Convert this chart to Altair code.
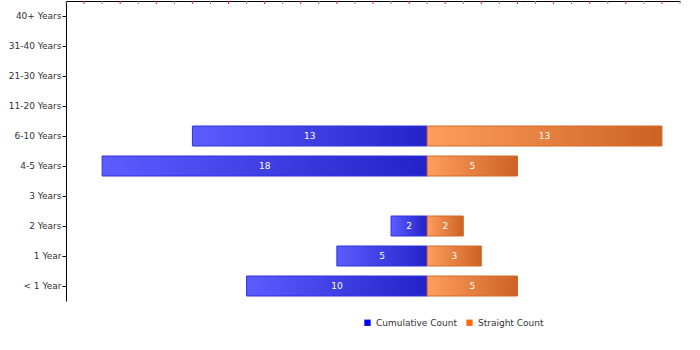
import altair as alt
import pandas as pd

categories = ["40+ Years", "31-40 Years", "21-30 Years", "11-20 Years", "6-10 Years",
              "4-5 Years", "3 Years", "2 Years", "1 Year", "< 1 Year"]
cumulative = [0, 0, 0, 0, 13, 18, 0, 2, 5, 10]
straight = [0, 0, 0, 0, 13, 5, 0, 2, 3, 5]
series_names = ["Cumulative Count", "Straight Count"]
tick_values = list(range(-20, 15))

rows = []
for c, v in zip(categories, cumulative):
    rows.append({"cat": c, "series": series_names[0], "count": v, "sign": -1})
for c, v in zip(categories, straight):
    rows.append({"cat": c, "series": series_names[1], "count": v, "sign": 1})
df = pd.DataFrame(rows)
ticks_df = pd.DataFrame({"t": tick_values})

FONT = "DejaVu Sans"
xscale = alt.Scale(domain=[-20, 14], nice=False, zero=False)
yscale = alt.Scale(domain=categories, paddingInner=1/3, paddingOuter=1/6)

base = alt.Chart(df).transform_calculate(
    x=f"datum.sign * datum.count", mid="datum.sign * datum.count / 2"
)

blue_grad = alt.LinearGradient(
    gradient="linear", x1=0, x2=1, y1=0, y2=0,
    stops=[alt.GradientStop(offset=0, color="#5c5cff"),
           alt.GradientStop(offset=1, color="#2222c8")])
orange_grad = alt.LinearGradient(
    gradient="linear", x1=0, x2=1, y1=0, y2=0,
    stops=[alt.GradientStop(offset=0, color="#ff9e5e"),
           alt.GradientStop(offset=1, color="#cc6224")])

ycode = alt.Y("cat:N", scale=yscale, sort=categories,
              axis=alt.Axis(title=None, orient="left", domainColor="#000000", tickColor="#000000",
                            tickSize=4, labelPadding=1, labelFont=FONT, labelFontSize=9,
                            labelColor="#333333", grid=False))

blue_bars = base.transform_filter(
    f"datum.series == '{series_names[0]}' && datum.count > 0"
).mark_bar(fill=blue_grad, stroke="#3030e0", strokeWidth=1).encode(
    x=alt.X("x:Q", scale=xscale,
            axis=alt.Axis(orient="top", title=None, labels=False, ticks=False,
                          grid=False, domainColor="#000000")),
    x2=alt.datum(0),
    y=ycode,
)
orange_bars = base.transform_filter(
    f"datum.series == '{series_names[1]}' && datum.count > 0"
).mark_bar(fill=orange_grad, stroke="#d06a2a", strokeWidth=1).encode(
    x=alt.X("x:Q", scale=xscale),
    x2=alt.datum(0),
    y=ycode,
)
labels = base.transform_filter("datum.count > 0").mark_text(
    color="white", font=FONT, fontSize=9, baseline="middle", align="center"
).encode(
    x=alt.X("mid:Q", scale=xscale),
    y=ycode,
    text="count:Q",
)
legend_layer = base.mark_square(size=0, opacity=0).encode(
    x=alt.X("x:Q", scale=xscale),
    y=ycode,
    color=alt.Color("series:N", scale=alt.Scale(domain=series_names, range=["#0000ee", "#ff6a10"]),
                    legend=alt.Legend(title=None, orient="none", direction="horizontal",
                                      legendX=297, legendY=317, symbolType="square",
                                      symbolSize=40, symbolOpacity=1, symbolStrokeWidth=0,
                                      labelFont=FONT, labelFontSize=9, labelColor="#333333",
                                      columnPadding=8, labelOffset=4)),
)
top_ticks = alt.Chart(ticks_df).mark_rule(strokeWidth=1).encode(
    x=alt.X("t:Q", scale=xscale),
    y=alt.value(0),
    y2=alt.value(3),
    color=alt.condition("datum.t % 2 == 0", alt.value("#888888"), alt.value("#ff2020")),
)

chart = alt.layer(blue_bars, orange_bars, labels, legend_layer, top_ticks).properties(
    width=614, height=300,
    padding={"left": 66, "top": 1, "right": 20, "bottom": 49},
    autosize=alt.AutoSizeParams(type="none"),
).configure_view(stroke=None).resolve_scale(color="independent")

chart.save("out.html", embed_options={"renderer": "svg", "actions": False})
